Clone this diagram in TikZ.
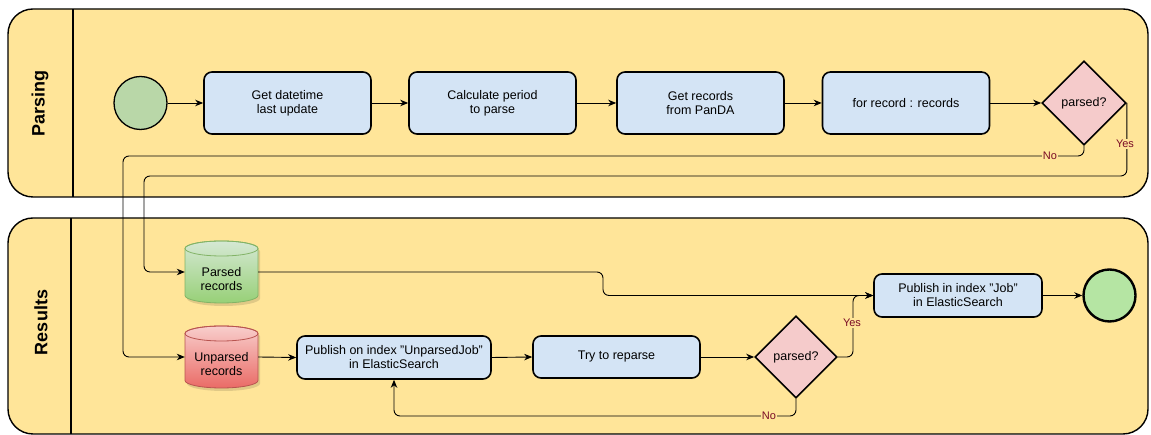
\documentclass[tikz,border=0pt]{standalone}
\usepackage{fontspec}
\setmainfont{Liberation Sans}
\usetikzlibrary{arrows.meta,shapes.geometric,calc}
\definecolor{poolfill}{HTML}{FFE599}
\definecolor{boxblue}{HTML}{D4E4F5}
\definecolor{diafill}{HTML}{F5CBCB}
\definecolor{startgreen}{HTML}{B9D7A8}
\definecolor{endgreen}{HTML}{B5E5A3}
\definecolor{lblred}{HTML}{7A0A25}
\definecolor{gtop}{HTML}{D5E8D4}
\definecolor{gbot}{HTML}{97D077}
\definecolor{gline}{HTML}{82B366}
\definecolor{rtop}{HTML}{F8CECC}
\definecolor{rbot}{HTML}{EA6B66}
\definecolor{rline}{HTML}{B85450}
\newcommand\drawcyl[5]{% cx, cy, top color, bottom color, line color
  \fill[black,opacity=0.12] (#1-36.5+2,#2+23.5-3) -- (#1-36.5+2,#2-23.5-3) arc[start angle=180,end angle=360,x radius=36.5,y radius=7.5] -- (#1+36.5+2,#2+23.5-3) arc[start angle=0,end angle=180,x radius=36.5,y radius=7.5] -- cycle;
  \draw[#5,line width=0.8pt,top color=#3,bottom color=#4] (#1-36.5,#2+23.5) -- (#1-36.5,#2-23.5) arc[start angle=180,end angle=360,x radius=36.5,y radius=7.5] -- (#1+36.5,#2+23.5) arc[start angle=0,end angle=180,x radius=36.5,y radius=7.5] -- cycle;
  \draw[#5,line width=0.8pt] (#1,#2+23.5) ellipse[x radius=36.5,y radius=7.5];
}
\newcommand\qq{\symbol{34}}
\begin{document}
\begin{tikzpicture}[x=1pt,y=1pt,
  font=\fontsize{12.5}{14}\selectfont,
  pool/.style={draw,line width=1.4pt,fill=poolfill,rounded corners=25pt},
  pooltitle/.style={rotate=90,font=\fontsize{18}{20}\selectfont\bfseries},
  task/.style 2 args={draw,line width=1.6pt,rounded corners=8pt,fill=boxblue,align=center,inner sep=0pt,minimum width=#1,minimum height=#2},
  gate/.style={draw,line width=1.6pt,diamond,aspect=1,fill=diafill,inner sep=0pt,minimum width=#1,minimum height=#1},
  conn/.style={draw,line width=0.9pt,rounded corners=6pt,-{Stealth[length=8pt,width=6.5pt,inset=2.5pt]}},
  lbl/.style={fill=poolfill,text=lblred,inner sep=1pt,font=\fontsize{11}{12}\selectfont},
  cylshape/.style={inner sep=0pt,minimum width=73,minimum height=62},
  cyltext/.style={align=center,inner sep=0pt}
]
\useasboundingbox (0,0) rectangle (1151,435);
% pools
\path[pool] (8,238) rectangle (1148,426);
\draw[line width=1.4pt] (73,238) -- (73,426);
\node[pooltitle] (tparse) at (40,331.5) {Parsing};
\path[pool] (8,1) rectangle (1148,217);
\draw[line width=1.4pt] (71,1) -- (71,217);
\node[pooltitle] (tres) at (41,112.5) {Results};

% row 1
\node[draw,circle,line width=1.3pt,fill=startgreen,minimum size=53,inner sep=0pt] (start) at (140.5,332) {};
\node[task={167}{62}] (b1) at (287.5,332) {Get datetime\\last update};
\node[task={167}{62}] (b2) at (492.5,332) {Calculate period\\to parse};
\node[task={167}{62}] (b3) at (700.5,332) {Get records\\from PanDA};
\node[task={167}{62}] (b4) at (906,332) {for record : records};
\node[gate=84] (d1) at (1084,332) {parsed?};

% results lane: data stores
\drawcyl{221.5}{163}{gtop}{gbot}{gline}
\drawcyl{221.5}{78}{rtop}{rbot}{rline}
\node[cylshape] (pr) at (221.5,163) {};
\node[cylshape] (up) at (221.5,78) {};
\node[cyltext] (prt) at (221.5,156) {Parsed\\records};
\node[cyltext] (upt) at (221.5,71) {Unparsed\\records};

\node[task={194}{43}] (uj) at (394,77.5) {Publish on index \qq UnparsedJob\qq\\in ElasticSearch};
\node[task={167}{42}] (rp) at (616.5,78) {Try to reparse};
\node[gate=82] (d2) at (796,78) {parsed?};
\node[task={168}{43}] (job) at (958,139.5) {Publish in index \qq Job\qq\\in ElasticSearch};
\node[draw,circle,line width=2.4pt,fill=endgreen,minimum size=52,inner sep=0pt] (end) at (1109.5,139.5) {};

% connectors
\draw[conn] (start) -- (b1);
\draw[conn] (b1) -- (b2);
\draw[conn] (b2) -- (b3);
\draw[conn] (b3) -- (b4);
\draw[conn] (b4) -- (d1);
\draw[conn] (d1.south) -- (d1.south |- 0,279) -- (123,279) -- (123,78) -- (up.west);
\draw[conn] (d1.east) -- (d1.east |- 0,259) -- (144,259) -- (144,163) -- (pr.west);
\node[lbl] (no1) at (1050,279) {No};
\node[lbl] (yes1) at (1125,291) {Yes};
\draw[conn] (up.east) -- (uj.west);
\draw[conn] (uj.east) -- (rp.west);
\draw[conn] (rp.east) -- (d2.west);
\draw[conn] (pr.east) -- (603,163) -- (603,139.5) -- (job.west);
\draw[conn] (d2.east) -- (853,78) -- (853,139.5) -- (job.west);
\draw[conn] (d2.south) -- (d2.south |- 0,19) -- (uj.south |- 0,19) -- (uj.south);
\node[lbl] (yes2) at (852,112) {Yes};
\node[lbl] (no2) at (769,19) {No};
\draw[conn] (job) -- (end);
\end{tikzpicture}
\end{document}
